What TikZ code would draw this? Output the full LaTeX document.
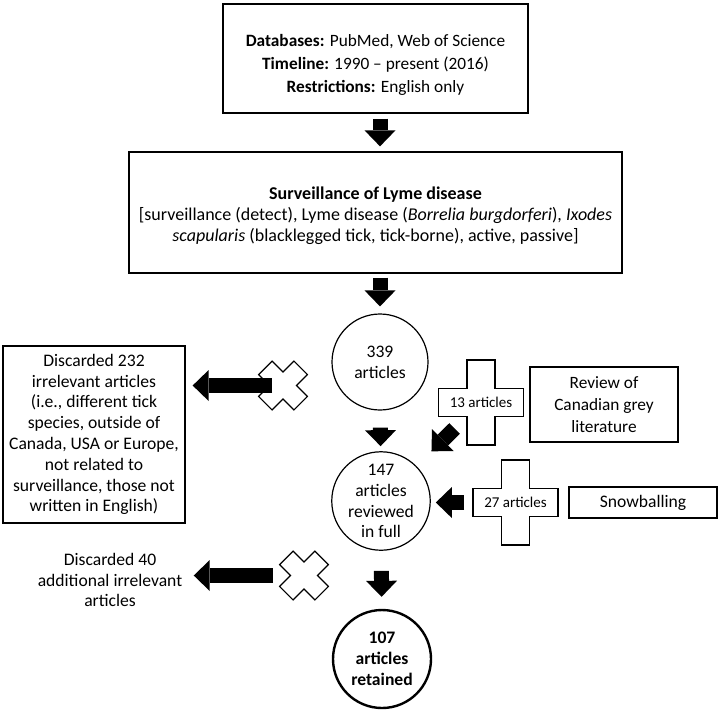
\documentclass[tikz,border=0pt]{standalone}
\usepackage{fontspec}
\setmainfont{Carlito}
\usetikzlibrary{arrows.meta}

\tikzset{
  box/.style={draw, line width=1.3pt, align=center, inner sep=2pt},
  count/.style={draw, circle, line width=1.2pt, align=center, minimum size=96pt, inner sep=0pt},
  bigarrow/.style={line width=15pt, -{Triangle[width=31pt,length=16pt,line width=0pt]}},
  small/.style={font=\fontsize{15}{18}\selectfont}
}

% plus shape: #2 half length, #3 half width
\newcommand{\plusmark}[3][]{%
  \draw[line width=1.2pt, fill=white, #1] (-#2,-#3) -- (-#3,-#3) -- (-#3,-#2) -- (#3,-#2)
    -- (#3,-#3) -- (#2,-#3) -- (#2,#3) -- (#3,#3) -- (#3,#2) -- (-#3,#2) -- (-#3,#3)
    -- (-#2,#3) -- cycle;}

\begin{document}
\begin{tikzpicture}[x=1pt, y=-1pt, font=\fontsize{17.6}{20.8}\selectfont]
  \useasboundingbox (0,0) rectangle (722,713);

  \node[box, minimum width=305pt, minimum height=109pt, font=\fontsize{17.3}{23}\selectfont] (search) at (375.5,58.5)
    {\rule{0pt}{25pt}\textbf{Databases:} PubMed, Web of Science\\ \textbf{Timeline:} 1990 -- present (2016)\\ \textbf{Restrictions:} English only};
  \node[box, minimum width=493pt, minimum height=121pt, font=\fontsize{18}{21}\selectfont] (terms) at (375.5,212.5)
    {\rule{0pt}{20pt}\textbf{Surveillance of Lyme disease}\\ {[}surveillance (detect), Lyme disease (\textit{Borrelia burgdorferi}), \textit{Ixodes}\\ \textit{scapularis} (blacklegged tick, tick-borne), active, passive]};

  \node[count] (n339) at (380,362) {339\\articles};
  \node[count, minimum size=98pt] (n147) at (381,501) {147\\articles\\reviewed\\in full};
  \node[count, minimum size=98pt, line width=2.4pt, font=\fontsize{17.6}{20.8}\selectfont\bfseries] (n107) at (382,659) {107\\articles\\retained};

  \node[box, minimum width=182pt, minimum height=177pt] (drop232) at (94,434.5)
    {Discarded 232\\irrelevant articles\\(i.e., different tick\\species, outside of\\Canada, USA or Europe,\\not related to\\surveillance, those not\\written in English)};
  \node[align=center] (drop40) at (110,580) {Discarded 40\\additional irrelevant\\articles};

  \node[box, minimum width=148pt, minimum height=75pt, font=\fontsize{17.3}{21.7}\selectfont] (grey) at (604,404.5) {Review of\\Canadian grey\\literature};
  \node[box, minimum width=148pt, minimum height=31pt] (snow) at (643,502.5) {Snowballing};

  % added and removed
  \plusmark[shift={(481,402.5)}]{42.5}{14}
  \node[small] (add13) at (481,402.5) {13 articles};
  \plusmark[shift={(515.5,502.5)}]{42.5}{14}
  \node[small] (add27) at (515.5,502.5) {27 articles};
  \plusmark[shift={(283,385.5)}, rotate=45]{25}{9.5}
  \coordinate (cut232) at (283,385.5);
  \plusmark[shift={(304,575.5)}, rotate=45]{25}{9.5}
  \coordinate (cut40) at (304,575.5);

  % arrows
  \draw[bigarrow, shorten <=5pt, shorten >=5pt] ([xshift=4.5pt]search.south) -- ([xshift=4.5pt]terms.north);
  \draw[bigarrow, shorten <=4pt, shorten >=7pt] ([xshift=4.5pt]terms.south) -- (n339);
  \draw[bigarrow, shorten <=17pt, shorten >=5pt] (n339) -- (n147);
  \draw[bigarrow, shorten <=20pt, shorten >=12pt] (n147) -- (n107);
  \draw[bigarrow, shorten <=11pt, shorten >=7pt] (cut232) -- (cut232 -| drop232.east);
  \draw[bigarrow, shorten <=31pt, shorten >=8pt] (cut40) -- (cut40 -| drop40.east);
  \draw[bigarrow, shorten <=37pt, shorten >=21pt] (add13.center) -- (n147);
  \draw[bigarrow, shorten <=51.5pt, shorten >=5pt] (add27.center) -- (add27.center -| n147.east);
\end{tikzpicture}
\end{document}
